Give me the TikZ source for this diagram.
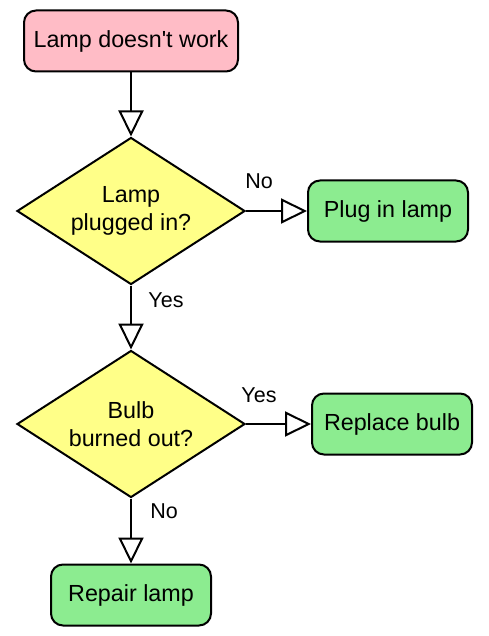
\documentclass[tikz,border=0pt]{standalone}
\usepackage{fontspec}
\setmainfont{Liberation Sans}
\usetikzlibrary{shapes.geometric,arrows.meta}
\definecolor{pinkfill}{HTML}{FFBCC6}
\definecolor{greenfill}{HTML}{8CEC90}
\definecolor{yellowfill}{HTML}{FFFF88}
\begin{document}
\begin{tikzpicture}[x=1pt,y=-1pt,
  box/.style={draw=black, line width=2pt, rounded corners=12pt, minimum width=160pt, minimum height=61pt, inner sep=0pt, font=\fontsize{23.3}{28.5}\selectfont},
  decision/.style={diamond, draw=black, line width=2pt, fill=yellowfill, aspect=1.55, minimum width=228pt, minimum height=147pt, inner sep=0pt, align=center, font=\fontsize{23.3}{28.5}\selectfont},
  flow/.style={line width=2pt, -{Triangle[open, length=26pt, width=25pt]}},
  lbl/.style={font=\fontsize{21.5}{25}\selectfont, inner sep=0pt}
]
\useasboundingbox (0,0) rectangle (489,636);
\node[box, fill=pinkfill, minimum width=214pt] (start) at (131,41) {Lamp doesn\textquotesingle t work};
\node[decision] (d1) at (131,211) {Lamp\\plugged in?};
\node[box, fill=greenfill] (plug) at (388,211) {Plug in lamp};
\node[decision] (d2) at (131,424) {Bulb\\burned out?};
\node[box, fill=greenfill] (replace) at (392,424) {Replace bulb};
\node[box, fill=greenfill] (repair) at (131,595) {Repair lamp};
\draw[flow] (start) -- (d1.north);
\draw[flow] (d1.east) -- (plug.west);
\draw[flow] (d1.south) -- (d2.north);
\draw[flow] (d2.east) -- (replace.west);
\draw[flow] (d2.south) -- (repair.north);
\node[lbl] (l1) at (259,181) {No};
\node[lbl] (l2) at (166,300) {Yes};
\node[lbl] (l3) at (259,395) {Yes};
\node[lbl] (l4) at (164,511) {No};
\end{tikzpicture}
\end{document}
